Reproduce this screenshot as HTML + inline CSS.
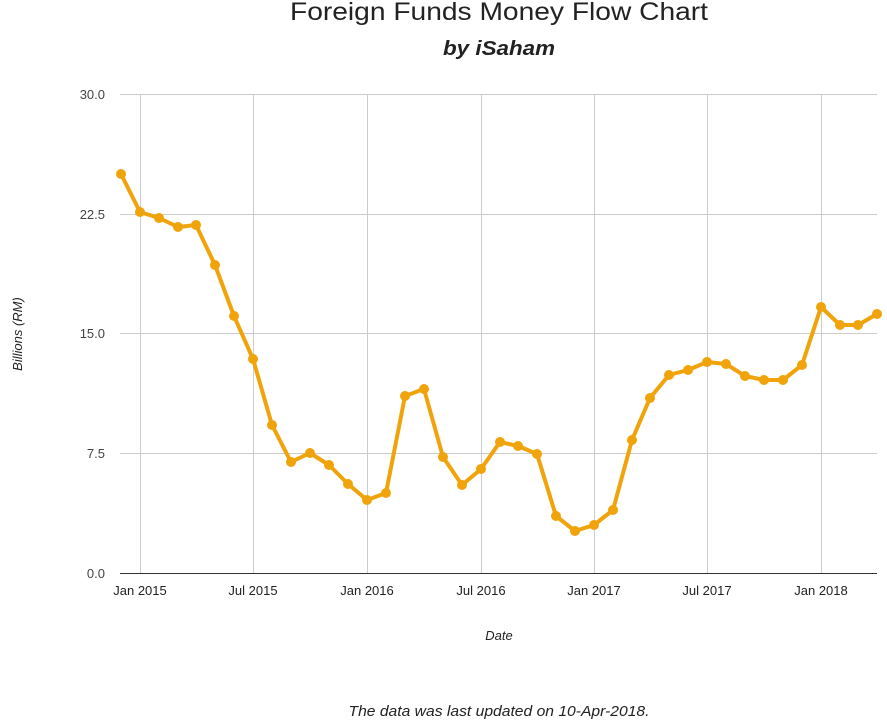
<!DOCTYPE html>
<html><head><meta charset="utf-8"><style>body{margin:0;background:#fff}svg{display:block}</style></head>
<body>
<svg width="887" height="724" xmlns="http://www.w3.org/2000/svg" font-family="Liberation Sans, sans-serif">
<text x="499" y="20" text-anchor="middle" font-size="25" fill="#222" textLength="418" lengthAdjust="spacingAndGlyphs">Foreign Funds Money Flow Chart</text>
<text x="499" y="55" text-anchor="middle" font-size="20" font-style="italic" font-weight="bold" fill="#222" textLength="112" lengthAdjust="spacingAndGlyphs">by iSaham</text>
<g stroke="#ccc" stroke-width="1">
<line x1="120" y1="94.5" x2="877" y2="94.5"/><line x1="120" y1="214.5" x2="877" y2="214.5"/><line x1="120" y1="333.5" x2="877" y2="333.5"/><line x1="120" y1="453.5" x2="877" y2="453.5"/>
<line x1="140.5" y1="94" x2="140.5" y2="573"/><line x1="253.5" y1="94" x2="253.5" y2="573"/><line x1="367.5" y1="94" x2="367.5" y2="573"/><line x1="481.5" y1="94" x2="481.5" y2="573"/><line x1="594.5" y1="94" x2="594.5" y2="573"/><line x1="707.5" y1="94" x2="707.5" y2="573"/><line x1="821.5" y1="94" x2="821.5" y2="573"/>
</g>
<line x1="120" y1="573.5" x2="877" y2="573.5" stroke="#333"/>
<g font-size="13" fill="#444" text-anchor="end">
<text x="105" y="99">30.0</text><text x="105" y="219">22.5</text><text x="105" y="338">15.0</text><text x="105" y="458">7.5</text><text x="105" y="578">0.0</text>
</g>
<g font-size="13" fill="#222" text-anchor="middle">
<text x="140" y="595">Jan 2015</text><text x="253" y="595">Jul 2015</text><text x="367" y="595">Jan 2016</text><text x="481" y="595">Jul 2016</text><text x="594" y="595">Jan 2017</text><text x="707" y="595">Jul 2017</text><text x="821" y="595">Jan 2018</text>
</g>
<text x="499" y="640" text-anchor="middle" font-size="13" font-style="italic" fill="#222">Date</text>
<text transform="translate(22,334) rotate(-90)" text-anchor="middle" font-size="13" font-style="italic" fill="#222">Billions (RM)</text>
<text x="499" y="716" text-anchor="middle" font-size="15" font-style="italic" fill="#222" textLength="301" lengthAdjust="spacingAndGlyphs">The data was last updated on 10-Apr-2018.</text>
<polyline fill="none" stroke="#f0a30a" stroke-width="4" stroke-linejoin="round" points="121,174 140,212 159,218 178,227 196,225 215,265 234,316 253,359 272,425 291,462 310,453 329,465 348,484 367,500 386,493 405,396 424,389 443,457 462,485 481,469 500,442 518,446 537,454 556,516 575,531 594,525 613,510 632,440 650,398 669,375 688,370 707,362 726,364 745,376 764,380 783,380 802,365 821,307 840,325 858,325 877,314"/>
<g fill="#f0a30a">
<circle cx="121" cy="174" r="5"/><circle cx="140" cy="212" r="5"/><circle cx="159" cy="218" r="5"/><circle cx="178" cy="227" r="5"/><circle cx="196" cy="225" r="5"/><circle cx="215" cy="265" r="5"/><circle cx="234" cy="316" r="5"/><circle cx="253" cy="359" r="5"/><circle cx="272" cy="425" r="5"/><circle cx="291" cy="462" r="5"/><circle cx="310" cy="453" r="5"/><circle cx="329" cy="465" r="5"/><circle cx="348" cy="484" r="5"/><circle cx="367" cy="500" r="5"/><circle cx="386" cy="493" r="5"/><circle cx="405" cy="396" r="5"/><circle cx="424" cy="389" r="5"/><circle cx="443" cy="457" r="5"/><circle cx="462" cy="485" r="5"/><circle cx="481" cy="469" r="5"/><circle cx="500" cy="442" r="5"/><circle cx="518" cy="446" r="5"/><circle cx="537" cy="454" r="5"/><circle cx="556" cy="516" r="5"/><circle cx="575" cy="531" r="5"/><circle cx="594" cy="525" r="5"/><circle cx="613" cy="510" r="5"/><circle cx="632" cy="440" r="5"/><circle cx="650" cy="398" r="5"/><circle cx="669" cy="375" r="5"/><circle cx="688" cy="370" r="5"/><circle cx="707" cy="362" r="5"/><circle cx="726" cy="364" r="5"/><circle cx="745" cy="376" r="5"/><circle cx="764" cy="380" r="5"/><circle cx="783" cy="380" r="5"/><circle cx="802" cy="365" r="5"/><circle cx="821" cy="307" r="5"/><circle cx="840" cy="325" r="5"/><circle cx="858" cy="325" r="5"/><circle cx="877" cy="314" r="5"/>
</g>
</svg>
</body></html>
